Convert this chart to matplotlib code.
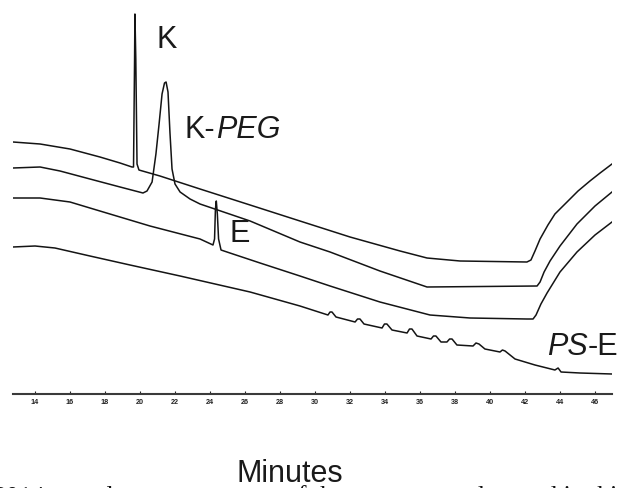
"""Gradient HPLC traces for K, K-PEG, E and PS-E, stacked on one time axis."""

import matplotlib

matplotlib.use("Agg")
import matplotlib.pyplot as plt

plt.rcParams["font.family"] = ["Liberation Sans", "DejaVu Sans"]

# retention time (min) / detector signal (arbitrary units) for each trace
k_time = [12.74, 14.29, 16.0, 17.71, 18.86, 19.54, 19.63, 19.69, 19.71, 19.76,
          19.83, 19.94, 21.14, 23.43, 26.29, 29.14, 32.0, 34.86, 36.4, 38.29,
          42.11, 42.34, 42.57, 42.86, 43.31, 43.71, 44.4, 45.03, 45.71, 46.29,
          46.97]
k_signal = [252, 250, 245, 237, 231, 227, 227, 335, 380, 335,
            230, 224, 218, 205, 189, 173, 157, 143, 136, 133,
            132, 134, 143, 155, 169, 180, 192, 203, 213, 221,
            230]

kpeg_time = [12.74, 14.29, 15.43, 17.14, 18.86, 20.17, 20.4, 20.69, 20.91, 21.09,
             21.26, 21.4, 21.49, 21.6, 21.71, 21.83, 22.0, 22.29, 22.86, 23.43,
             26.29, 29.14, 30.86, 33.71, 36.4, 42.69, 42.86, 43.09, 43.43, 44.0,
             44.97, 46.0, 46.97]
kpeg_signal = [226, 227, 223, 215, 207, 201, 203, 212, 240, 270,
               300, 311, 312, 302, 262, 225, 210, 202, 195, 190,
               173, 152, 142, 123, 107, 108, 112, 122, 133, 148,
               170, 188, 202]

e_time = [12.74, 14.29, 16.0, 17.71, 20.57, 23.43, 24.17, 24.26, 24.31, 24.36,
          24.42, 24.49, 24.63, 25.14, 26.86, 29.14, 30.86, 33.71, 36.57, 38.86,
          42.11, 42.46, 42.63, 42.91, 43.26, 44.0, 44.97, 46.0, 46.97]
e_signal = [196, 196, 192, 183, 168, 155, 149, 155, 185, 193,
            180, 155, 144, 141, 131, 118, 108, 92, 79, 76,
            75, 75, 79, 90, 101, 122, 142, 159, 172]

pse_time = [12.74, 14.0, 15.14, 17.14, 19.43, 22.29, 26.29, 29.14, 30.74, 30.86,
            30.97, 31.2, 32.29, 32.43, 32.57, 32.8, 33.83, 33.97, 34.11, 34.4,
            35.26, 35.4, 35.54, 35.83, 36.63, 36.77, 36.91, 37.2, 37.54, 37.69,
            37.83, 38.11, 39.03, 39.2, 39.37, 39.71, 40.57, 40.71, 40.86, 41.43,
            42.57, 43.71, 43.89, 44.06, 45.14, 46.97]
pse_signal = [147, 148, 146, 138, 129, 118, 102, 88, 79, 82,
              82, 77, 72, 75, 75, 70, 66, 70, 70, 64,
              61, 65, 65, 58, 55, 58, 58, 52, 52, 55,
              55, 49, 48, 51, 50, 45, 42, 44, 43, 35,
              29, 24, 26, 22, 21, 20]

tick_minutes = list(range(14, 47, 2))

W, H = 623, 489
fig = plt.figure(figsize=(W / 100, H / 100), dpi=100)
ax = fig.add_axes([13 / W, (H - 395) / H, (612 - 13) / W, 395 / H])

line_kw = dict(color="#141414", lw=1.1, solid_joinstyle="round")
for t, s in [(k_time, k_signal), (kpeg_time, kpeg_signal),
             (e_time, e_signal), (pse_time, pse_signal)]:
    ax.plot(t, s, **line_kw)

ax.set_xlim(12.743, 46.971)
ax.set_ylim(0, 395)
for side in ("left", "right", "top"):
    ax.spines[side].set_visible(False)
ax.spines["bottom"].set_color("#3a3a3a")
ax.spines["bottom"].set_linewidth(1.5)
ax.set_yticks([])
ax.set_xticks(tick_minutes)
ax.set_xticklabels([str(m) for m in tick_minutes], fontsize=5.2, fontweight="bold")
ax.tick_params(axis="x", direction="in", length=2, width=0.8, pad=3, colors="#222222")

lbl = dict(fontsize=22, color="#1a1a1a")


def label(x, y, parts):
    """Write plain/italic pieces one after another on a shared baseline."""
    prev = ax.text(x, y, parts[0][0], style=parts[0][1], ha="left", va="baseline", **lbl)
    for txt, st in parts[1:]:
        prev = ax.annotate(txt, xy=(1, 0), xycoords=prev, ha="left", va="bottom",
                           style=st, **lbl)


label(20.93, 347, [("K", "normal")])
label(22.57, 257, [("K-", "normal"), ("PEG", "italic")])
label(25.09, 153, [("E", "normal")])
label(43.26, 40, [("PS", "italic"), ("-E", "normal")])

fig.text(290 / W, (H - 482) / H, "Minutes", fontsize=22, ha="center", va="baseline",
         color="#1a1a1a")

# running caption line of the page, mostly below the frame
cap = dict(fontsize=18.5, family="Liberation Serif", va="baseline", color="#111111")
for word, px in [("2014,", -6), ("al", 95), ("at", 169), ("of the", 285),
                 ("and", 447), ("used in this", 510)]:
    fig.text(px / W, (H - 503) / H, word, **cap)

fig.savefig("out.png", dpi=100)
